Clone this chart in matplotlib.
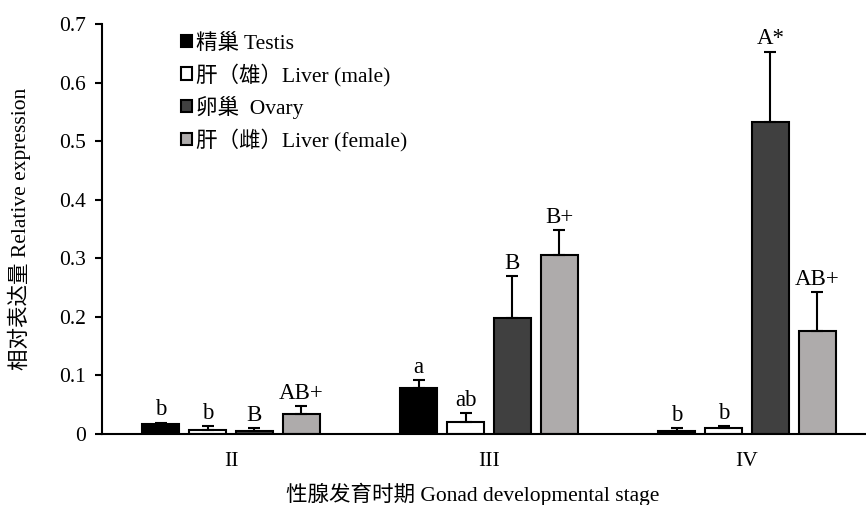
import matplotlib.pyplot as plt
import numpy as np

plt.rcParams['font.family'] = ['Liberation Serif', 'Noto Sans CJK SC']

stages = ['II', 'III', 'IV']
series = ['精巢 Testis', '肝（雄）Liver (male)', '卵巢  Ovary', '肝（雌）Liver (female)']
colors = ['#000000', '#ffffff', '#404040', '#aeabab']

testis = [0.017, 0.079, 0.0056]
liver_m = [0.0075, 0.021, 0.0096]
ovary = [0.005, 0.198, 0.533]
liver_f = [0.035, 0.306, 0.176]

testis_err = [0.0025, 0.013, 0.004]
liver_m_err = [0.0055, 0.015, 0.004]
ovary_err = [0.005, 0.072, 0.12]
liver_f_err = [0.012, 0.042, 0.066]

testis_lab = ['b', 'a', 'b']
liver_m_lab = ['b', 'ab', 'b']
ovary_lab = ['B', 'B', 'A*']
liver_f_lab = ['AB+', 'B+', 'AB+']

values = [testis, liver_m, ovary, liver_f]
errors = [testis_err, liver_m_err, ovary_err, liver_f_err]
labels = [testis_lab, liver_m_lab, ovary_lab, liver_f_lab]

fs = 15.5

fig = plt.figure(figsize=(8.66, 5.05), dpi=100)
ax = fig.add_axes([102 / 866, 71 / 505, 774 / 866, 410 / 505])

x = np.arange(len(stages))
width = 0.143
step = 0.182
offsets = [-1.5 * step, -0.5 * step, 0.5 * step, 1.5 * step]

for vals, errs, labs, name, c, off in zip(values, errors, labels, series, colors, offsets):
    ax.bar(x + off, vals, width, color=c, edgecolor='black', linewidth=1.5, label=name,
           yerr=[np.zeros(len(vals)), errs], capsize=4.5,
           error_kw=dict(elinewidth=1.5, capthick=1.5, ecolor='black'))
    for xi, v, e, t in zip(x + off, vals, errs, labs):
        ax.text(xi, v + e + 0.004, t, ha='center', va='bottom', fontsize=16.5)

ax.set_xlim(-0.5, 2.5)
ax.set_ylim(0, 0.7)
ax.set_xticks(x)
ax.set_xticklabels(stages, fontsize=fs)
ax.set_yticks(np.arange(0, 0.71, 0.1))
ax.set_yticklabels(['0', '0.1', '0.2', '0.3', '0.4', '0.5', '0.6', '0.7'], fontsize=fs)
ax.tick_params(axis='x', length=0, pad=13)
ax.tick_params(axis='y', length=5, width=1.5, direction='out', pad=6.5)
for s in ['top', 'right']:
    ax.spines[s].set_visible(False)
for s in ['left', 'bottom']:
    ax.spines[s].set_linewidth(1.5)

ax.set_ylabel('相对表达量 Relative expression', fontsize=fs)
ax.yaxis.set_label_coords(-0.092, 0.5)
ax.set_xlabel('性腺发育时期 Gonad developmental stage', fontsize=fs)
ax.xaxis.set_label_coords((473 - 102) / 774, -0.12)

ax.legend(loc='upper left', bbox_to_anchor=(0.077, 1.024), frameon=False, fontsize=fs,
          handlelength=0.5, handleheight=0.5, handletextpad=0.2, labelspacing=0.45)

fig.savefig('out.png', dpi=100)
